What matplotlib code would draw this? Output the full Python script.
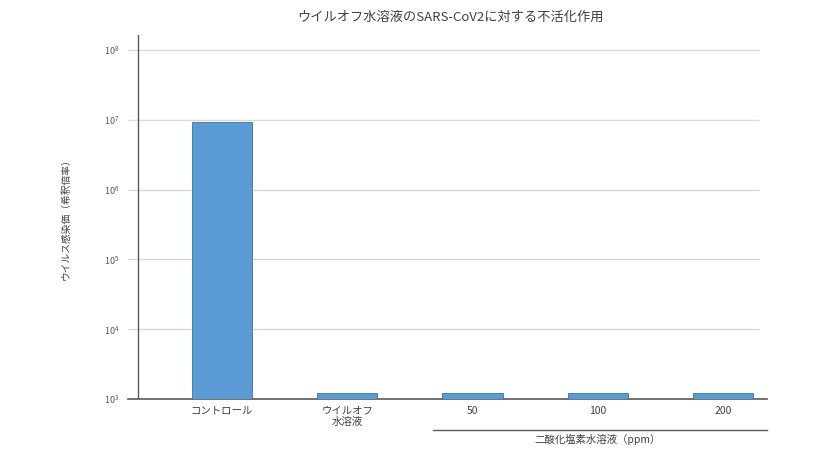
import numpy as np
import matplotlib.pyplot as plt

plt.rcParams['font.family'] = ['Noto Sans CJK JP', 'DejaVu Sans']

categories = ["コントロール", "ウイルオフ\n水溶液", "50", "100", "200"]
titers = [9.4e6, 1.2e3, 1.2e3, 1.2e3, 1.2e3]
decades = [1e3, 1e4, 1e5, 1e6, 1e7, 1e8]

fig = plt.figure(figsize=(8.4, 4.73), dpi=100)
ax = fig.add_axes([128 / 840, 74 / 473, (767 - 128) / 840, (399 - 35) / 473])

x = np.arange(len(categories))
ax.set_yscale('log')
ax.set_xlim(-0.75, 4.35)
ax.set_ylim(1e3, 10 ** 8.214)

# grid lines (not reaching the right end)
ax.hlines(decades[1:], -0.75, 4.286, color='#d9d9d9', lw=1, zorder=0)
ax.axvline(-0.67, color='#595959', lw=1)
ax.axhline(1e3, color='#595959', lw=1.2, clip_on=False)

ax.bar(x, titers, width=0.48, color='#5b9bd5', edgecolor='#41719c',
       linewidth=0.6, zorder=2)

for s in ax.spines.values():
    s.set_visible(False)
ax.set_yticks(decades)
ax.tick_params(axis='y', length=0, labelsize=6.5, labelcolor='#595959', pad=6)
ax.minorticks_off()
ax.set_xticks(x)
ax.set_xticklabels(categories, fontsize=7.5, color='#404040', linespacing=1.15)
ax.tick_params(axis='x', length=0, pad=5)

ax.set_ylabel("ウイルス感染価（希釈倍率）", fontsize=7, color='#404040', labelpad=24)

# group bracket for chlorine dioxide concentrations
fig.add_artist(plt.Line2D([433 / 840, 767 / 840], [43 / 473, 43 / 473],
                          color='#595959', lw=1))
fig.text(598 / 840, 34 / 473, "二酸化塩素水溶液（ppm）", fontsize=7.5,
         color='#404040', ha='center', va='center')

fig.text(450 / 840, 456 / 473, "ウイルオフ水溶液のSARS-CoV2に対する不活化作用",
         fontsize=9.5, color='#404040', ha='center', va='center')

fig.savefig('out.png', dpi=100)
